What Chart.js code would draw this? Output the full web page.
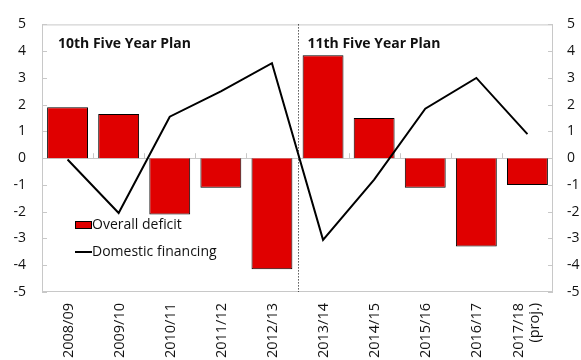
<!DOCTYPE html>
<html>
<head>
<meta charset="utf-8">
<script src="https://cdn.jsdelivr.net/npm/chart.js@4/dist/chart.umd.min.js"></script>
<style>
  html, body { margin: 0; padding: 0; background: #fff; }
  #wrap { width: 581px; height: 360px; }
</style>
</head>
<body>
<div id="wrap"><canvas id="deficitChart" width="581" height="360"></canvas></div>
<script>
// Fiscal years and the two series (percent of GDP)
const years = ['2008/09', '2009/10', '2010/11', '2011/12', '2012/13',
               '2013/14', '2014/15', '2015/16', '2016/17', ['2017/18', '(proj.)']];
const overallDeficit = [1.9, 1.65, -2.1, -1.1, -4.15, 3.85, 1.5, -1.1, -3.3, -1.0];
const domesticFinancing = [-0.05, -2.05, 1.55, 2.5, 3.55, -3.05, -0.8, 1.85, 3.0, 0.9];
const planLabels = ['10th Five Year Plan', '11th Five Year Plan'];
const planStart = [0, 5];   // first year index of each plan
const yTicks = [-5, -4, -3, -2, -1, 0, 1, 2, 3, 4, 5];

const FONT = "'Open Sans', 'Noto Sans', sans-serif";
const TEXT = '#111';
const AXIS_GREY = '#c8c8c8';

// frame, zero line, inward tick marks, plan divider, plan titles, year labels and legend
const decorations = {
    id: 'decorations',
    beforeDatasetsDraw(chart) {
        const { ctx, chartArea: a, scales: { x, y } } = chart;
        const zero = y.getPixelForValue(0);
        const half = (x.getPixelForValue(1) - x.getPixelForValue(0)) / 2;
        ctx.save();
        ctx.strokeStyle = AXIS_GREY;
        ctx.lineWidth = 1;
        ctx.strokeRect(a.left + 0.5, a.top + 0.5, a.width - 1, a.height - 1);
        ctx.beginPath();
        ctx.moveTo(a.left, Math.round(zero) + 0.5);
        ctx.lineTo(a.right, Math.round(zero) + 0.5);
        yTicks.forEach(v => {
            const py = Math.round(y.getPixelForValue(v)) + 0.5;
            ctx.moveTo(a.left, py); ctx.lineTo(a.left + 5, py);
            ctx.moveTo(a.right, py); ctx.lineTo(a.right - 5, py);
        });
        for (let i = 1; i < years.length; i++) {
            const px = Math.round(x.getPixelForValue(i) - half) + 0.5;
            ctx.moveTo(px, zero); ctx.lineTo(px, zero - 5);
        }
        ctx.stroke();
        ctx.restore();
    },
    afterDatasetsDraw(chart) {
        const { ctx, chartArea: a, scales: { x, y } } = chart;
        const half = (x.getPixelForValue(1) - x.getPixelForValue(0)) / 2;
        ctx.save();

        // dotted divider between the two plans
        const dx = Math.round(x.getPixelForValue(planStart[1]) - half) + 0.5;
        ctx.strokeStyle = '#000';
        ctx.lineWidth = 1;
        ctx.setLineDash([1, 2]);
        ctx.beginPath();
        ctx.moveTo(dx, a.top);
        ctx.lineTo(dx, a.bottom);
        ctx.stroke();
        ctx.setLineDash([]);

        // plan titles
        ctx.fillStyle = TEXT;
        ctx.font = 'bold 14px ' + FONT;
        ctx.textBaseline = 'middle';
        ctx.textAlign = 'left';
        const titleInset = [16, 10];
        planLabels.forEach((t, i) => {
            const px = x.getPixelForValue(planStart[i]) - half + titleInset[i];
            ctx.fillText(t, px, a.top + 20);
        });

        // year labels, rotated, top-aligned under the plot
        ctx.font = '14.5px ' + FONT;
        ctx.textAlign = 'right';
        years.forEach((lab, i) => {
            const lines = Array.isArray(lab) ? lab : [lab];
            const cx = x.getPixelForValue(i) + 1;
            lines.forEach((t, j) => {
                const off = lines.length > 1 ? (j === 0 ? -10 : 6) : 0;
                ctx.save();
                ctx.translate(cx + off, a.bottom + 11);
                ctx.rotate(-Math.PI / 2);
                ctx.fillText(t, 0, 0);
                ctx.restore();
            });
        });

        // legend
        const ds = chart.data.datasets;
        const lx = a.left + 33;
        ctx.font = '14px ' + FONT;
        ctx.textAlign = 'left';
        ctx.fillStyle = ds[1].backgroundColor;
        ctx.fillRect(lx, 221, 17, 8);
        ctx.strokeStyle = '#000';
        ctx.strokeRect(lx + 0.5, 221.5, 16, 7);
        ctx.fillStyle = TEXT;
        ctx.fillText(ds[1].label, lx + 17, 225);
        ctx.lineWidth = 2;
        ctx.beginPath();
        ctx.moveTo(lx, 252);
        ctx.lineTo(lx + 17, 252);
        ctx.stroke();
        ctx.fillText(ds[0].label, lx + 17, 252);
        ctx.restore();
    }
};

const fixSize = (w, h) => scale => {
    if (w != null) scale.width = w;
    if (h != null) scale.height = h;
};

new Chart(document.getElementById('deficitChart'), {
    data: {
        labels: years,
        datasets: [{
            type: 'line',
            label: 'Domestic financing',
            data: domesticFinancing,
            borderColor: '#000',
            borderWidth: 2,
            pointRadius: 0,
            tension: 0,
            order: 0
        }, {
            type: 'bar',
            label: 'Overall deficit',
            data: overallDeficit,
            backgroundColor: '#e00000',
            borderColor: '#000',
            borderWidth: 1,
            categoryPercentage: 1,
            barPercentage: 0.8,
            order: 1
        }]
    },
    options: {
        responsive: false,
        animation: false,
        layout: { padding: { top: 13, left: 0, right: 0, bottom: 0 } },
        plugins: {
            legend: { display: false },
            tooltip: { enabled: false }
        },
        scales: {
            x: {
                grid: { display: false, drawTicks: false },
                border: { display: false },
                ticks: { display: false },
                afterFit: fixSize(null, 68)
            },
            y: {
                position: 'left',
                min: -5,
                max: 5,
                grid: { display: false, drawTicks: false },
                border: { display: false },
                ticks: {
                    stepSize: 1,
                    color: TEXT,
                    font: { family: FONT, size: 14 },
                    padding: 16
                },
                afterFit: fixSize(42, null)
            },
            y2: {
                position: 'right',
                min: -5,
                max: 5,
                grid: { display: false, drawTicks: false },
                border: { display: false },
                ticks: {
                    stepSize: 1,
                    color: TEXT,
                    font: { family: FONT, size: 14 },
                    padding: 14
                },
                afterFit: fixSize(28, null)
            }
        }
    },
    plugins: [decorations]
});
</script>
</body>
</html>
